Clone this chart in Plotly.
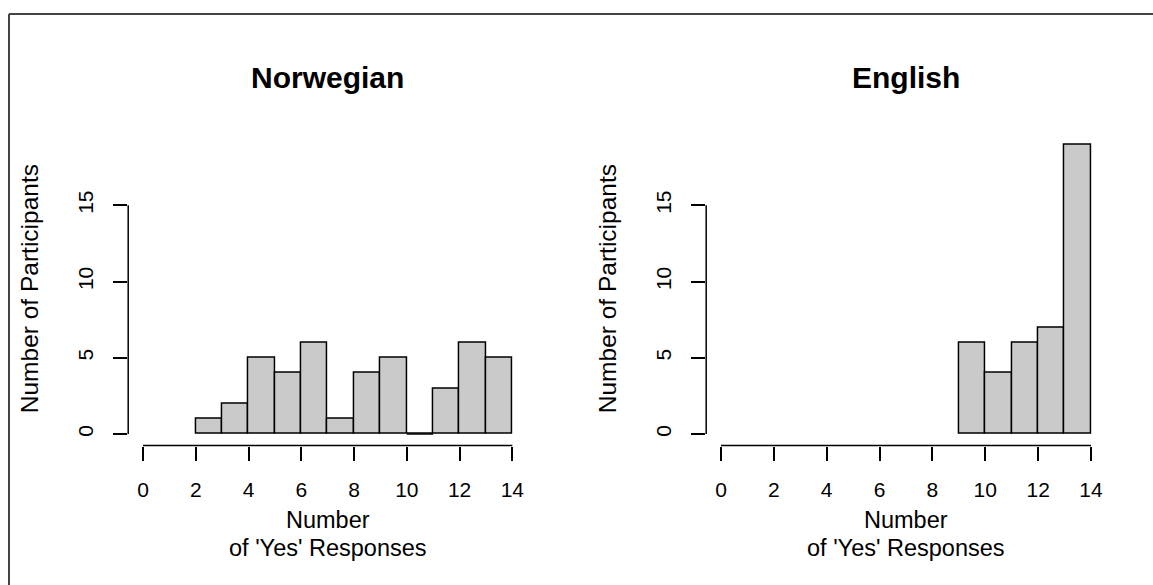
import plotly.graph_objects as go

# ---- data ----
bin_edges_nor = [2, 3, 4, 5, 6, 7, 8, 9, 10, 11, 12, 13, 14]
counts_nor = [1, 2, 5, 4, 6, 1, 4, 5, 0, 3, 6, 5]
bin_edges_eng = [9, 10, 11, 12, 13, 14]
counts_eng = [6, 4, 6, 7, 19]
panel_titles = ["Norwegian", "English"]
x_ticks = [0, 2, 4, 6, 8, 10, 12, 14]
y_ticks = [0, 5, 10, 15]
y_title = "Number of Participants"
x_title_lines = ["Number", "of 'Yes' Responses"]

OFF = 0  # body margin removed via post_script
W, H = 1153, 585
FONT = "Liberation Sans, Arial, sans-serif"
FILL = "#c9cac9"

fig = go.Figure()

def px_x(p):  # page pixel -> paper fraction
    return (p - OFF) / W

def px_y(p):
    return 1 - (p - OFF) / H

panels = [
    (bin_edges_nor, counts_nor, "x", "y", (128.2, 527.1)),
    (bin_edges_eng, counts_eng, "x2", "y2", (706.2, 1105.8)),
]
ydom = [px_y(445.6), px_y(132.7)]

for i, (edges, counts, xa, ya, (xl, xr)) in enumerate(panels):
    centers = [(edges[k] + edges[k + 1]) / 2 for k in range(len(counts))]
    widths = [edges[k + 1] - edges[k] for k in range(len(counts))]
    fig.add_trace(go.Bar(
        x=centers, y=counts, width=widths, xaxis=xa, yaxis=ya,
        marker=dict(color=FILL, line=dict(color="black", width=1.5)),
        showlegend=False, hoverinfo="skip",
    ))
    # zero-count bins drawn as flat outlines (as R does)
    for k, c in enumerate(counts):
        if c == 0:
            fig.add_trace(go.Scatter(
                x=[edges[k], edges[k + 1]], y=[0, 0], mode="lines",
                line=dict(color="black", width=1.5), xaxis=xa, yaxis=ya,
                showlegend=False, hoverinfo="skip",
            ))
    sfx = "" if i == 0 else str(i + 1)
    axis_common = dict(
        showgrid=False, zeroline=False, showline=False,
        ticks="outside", ticklen=14, tickwidth=1.5, tickcolor="black",
        tickfont=dict(family=FONT, size=21, color="black"),
    )
    fig.layout["xaxis" + sfx] = dict(
        axis_common, domain=[px_x(xl), px_x(xr)], range=[-0.56, 14.56],
        tickvals=x_ticks, ticklabelstandoff=11, anchor="y" + sfx,
    )
    fig.layout["yaxis" + sfx] = dict(
        axis_common, domain=ydom, range=[-0.76, 19.76],
        tickvals=y_ticks, tickangle=-90, ticklabelstandoff=12, anchor="x" + sfx,
    )
    # R-style axis lines spanning only the tick range
    fig.add_shape(type="line", xref=xa, yref=ya + " domain",
                  x0=x_ticks[0], x1=x_ticks[-1], y0=0, y1=0,
                  line=dict(color="black", width=1.5))
    fig.add_shape(type="line", xref=xa + " domain", yref=ya,
                  x0=0, x1=0, y0=y_ticks[0], y1=y_ticks[-1],
                  line=dict(color="black", width=1.5))
    cx = px_x((xl + xr) / 2)
    fig.add_annotation(text="<b>" + panel_titles[i] + "</b>", xref="paper", yref="paper",
                       x=cx, y=px_y(78), showarrow=False, xanchor="center", yanchor="middle",
                       font=dict(family=FONT, size=30, color="black"))
    fig.add_annotation(text=x_title_lines[0], xref="paper", yref="paper",
                       x=cx, y=px_y(520), showarrow=False, xanchor="center", yanchor="middle",
                       font=dict(family=FONT, size=23.5, color="black"))
    fig.add_annotation(text=x_title_lines[1], xref="paper", yref="paper",
                       x=cx, y=px_y(548), showarrow=False, xanchor="center", yanchor="middle",
                       font=dict(family=FONT, size=23.5, color="black"))
    fig.add_annotation(text=y_title, xref="paper", yref="paper",
                       x=px_x(xl - 99), y=px_y(289), showarrow=False, textangle=-90,
                       xanchor="center", yanchor="middle",
                       font=dict(family=FONT, size=24.5, color="black"))

# outer figure border (left and top edges visible; continues past the window)
fig.add_shape(type="line", xref="paper", yref="paper",
              x0=px_x(9), x1=1.5, y0=px_y(14), y1=px_y(14),
              line=dict(color="#444444", width=2))
fig.add_shape(type="line", xref="paper", yref="paper",
              x0=px_x(9), x1=px_x(9), y0=px_y(14), y1=-0.5,
              line=dict(color="#444444", width=2))

fig.update_layout(
    width=W, height=H, margin=dict(l=0, r=0, t=0, b=0),
    paper_bgcolor="white", plot_bgcolor="white", bargap=0,
)

fig.write_html(
    "out.html",
    config={"displayModeBar": False},
    post_script="document.body.style.margin='0';document.body.style.overflow='hidden';",
)
